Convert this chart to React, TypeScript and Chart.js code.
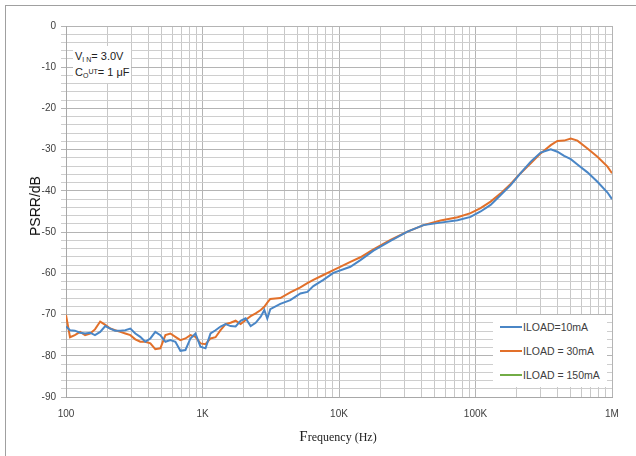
import React, { useEffect, useRef } from 'react';
import { Chart, registerables } from 'chart.js';

Chart.register(...registerables);

// Frequency (Hz) sample points
const freqHz = [
  100, 107, 116, 127, 138, 150, 163, 178, 194, 211, 229, 250, 272, 296, 322, 350, 381, 415, 451, 491,
  535, 582, 633, 689, 750, 816, 888, 966, 1052, 1145, 1246, 1356, 1476, 1606, 1748, 1902, 2070, 2253, 2452, 2670,
  2836, 2983, 3138, 3716, 4400, 5211, 5865, 6490, 7683, 9096, 12120, 14350, 17880, 23830, 31750, 41600, 55460, 73900,
  92000, 109000, 129000, 153000, 181000, 214000, 254000, 300000, 356000, 398000, 446000, 499000, 558000, 661000,
  782000, 927000, 1000000,
];

// PSRR (dB), ILOAD = 10mA
const load10mA = [
  -72.9, -73.8, -73.9, -74.4, -74.6, -74.4, -75.0, -74.2, -72.8, -73.4, -73.9, -73.9, -73.8, -73.4, -74.6, -75.4,
  -76.6, -75.8, -74.2, -75.0, -76.6, -76.2, -76.6, -78.8, -78.6, -75.8, -74.6, -77.8, -78.2, -74.6, -73.8, -72.9,
  -72.3, -72.8, -72.9, -71.5, -70.9, -72.8, -72.0, -70.5,
  -68.9, -71.0, -68.7, -67.4, -66.5, -64.9, -64.5, -63.1, -61.6, -59.9, -58.4, -56.8, -54.5, -52.1, -49.9, -48.3,
  -47.7, -47.1,
  -46.3, -45.0, -43.4, -41.0, -38.6, -35.7, -32.9, -30.7, -29.9, -30.5, -31.5, -32.3, -33.6, -35.5, -37.8, -40.4,
  -42.0,
];

// PSRR (dB), ILOAD = 30mA
const load30mA = [
  -70.1, -75.5, -75.0, -74.2, -75.0, -74.6, -73.6, -71.7, -72.5, -73.4, -73.8, -74.2, -74.6, -75.0, -76.0, -76.6,
  -76.6, -77.0, -78.4, -78.2, -75.0, -74.6, -75.4, -76.2, -75.8, -75.0, -75.4, -77.0, -77.2, -75.8, -75.5, -73.8,
  -72.3, -72.0, -71.5, -72.3, -71.3, -70.4, -69.7, -68.9,
  -68.1, -67.1, -66.2, -66.0, -64.6, -63.4, -62.4, -61.6, -60.4, -59.2, -57.2, -56.1, -54.2, -51.9, -49.9, -48.3,
  -47.2, -46.4,
  -45.4, -44.2, -42.6, -40.6, -38.3, -35.7, -33.3, -30.9, -28.9, -27.9, -27.8, -27.3, -27.8, -29.7, -31.7, -34.1,
  -35.7,
];

// PSRR (dB), ILOAD = 150mA (not visible in the reference, hidden beneath the other traces)
const load150mA: number[] = [];

const seriesNames = ['ILOAD=10mA', 'ILOAD = 30mA', 'ILOAD = 150mA'];
const seriesColors = ['#4a86c6', '#e2702a', '#72ac46'];

const xDecades = [100, 1000, 10000, 100000, 1000000];
const xDecadeLabels = ['100', '1K', '10K', '100K', '1M'];
const yMin = -90;
const yMax = 0;
const yMinorStep = 2;
const yLabelStep = 10;

export default function App() {
  const canvasRef = useRef<HTMLCanvasElement | null>(null);

  useEffect(() => {
    document.body.style.margin = '0';
    const canvas = canvasRef.current;
    if (!canvas) return;

    const toPts = (vals: number[]) => vals.map((v, i) => ({ x: freqHz[i], y: v }));

    const tickValues: number[] = [];
    for (let d = 0; d < xDecades.length - 1; d++) {
      for (let m = 1; m <= 9; m++) tickValues.push(xDecades[d] * m);
    }
    tickValues.push(xDecades[xDecades.length - 1]);

    const chart = new Chart(canvas, {
      type: 'line',
      data: {
        datasets: [
          { label: seriesNames[0], data: toPts(load10mA), borderColor: seriesColors[0], backgroundColor: seriesColors[0] },
          { label: seriesNames[1], data: toPts(load30mA), borderColor: seriesColors[1], backgroundColor: seriesColors[1] },
          { label: seriesNames[2], data: toPts(load150mA), borderColor: seriesColors[2], backgroundColor: seriesColors[2] },
        ].map((d) => ({ ...d, borderWidth: 2, pointRadius: 0, tension: 0, fill: false })),
      },
      options: {
        animation: false,
        responsive: false,
        devicePixelRatio: 1,
        layout: { padding: { top: 26, right: 24, left: 0, bottom: 0 } },
        plugins: { legend: { display: false }, tooltip: { enabled: false } },
        scales: {
          x: {
            type: 'logarithmic',
            min: xDecades[0],
            max: xDecades[xDecades.length - 1],
            afterBuildTicks: (scale: any) => {
              scale.ticks = tickValues.map((v) => ({ value: v, major: xDecades.includes(v) }));
            },
            afterFit: (scale: any) => {
              scale.height = 59;
            },
            ticks: {
              autoSkip: false,
              maxRotation: 0,
              padding: 11,
              color: '#404040',
              font: { family: 'Liberation Sans', size: 10 },
              callback: (value: any) => {
                const i = xDecades.indexOf(Number(value));
                return i >= 0 ? xDecadeLabels[i] : '';
              },
            },
            grid: {
              drawTicks: false,
              color: (ctx: any) => (ctx.tick && xDecades.includes(ctx.tick.value) ? '#b4b4b4' : '#c8c8c8'),
              lineWidth: 1,
            },
            border: { color: '#a8a8a8' },
          },
          y: {
            type: 'linear',
            min: yMin,
            max: yMax,
            afterFit: (scale: any) => {
              scale.width = 66;
            },
            ticks: {
              stepSize: yMinorStep,
              autoSkip: false,
              padding: 5,
              color: '#404040',
              font: { family: 'Liberation Sans', size: 10 },
              callback: (value: any) => (Number(value) % yLabelStep === 0 ? String(value) : ''),
            },
            grid: {
              tickLength: 5,
              color: (ctx: any) => (ctx.tick && ctx.tick.value % yLabelStep === 0 ? '#b4b4b4' : '#cecece'),
              lineWidth: 1,
            },
            border: { color: '#a8a8a8' },
          },
        },
      },
    });

    return () => {
      chart.destroy();
    };
  }, []);

  const sub: React.CSSProperties = { fontSize: 7, position: 'relative', top: 2 };
  const legendRow: React.CSSProperties = { display: 'flex', alignItems: 'center', height: 24 };

  return (
    <div style={{ position: 'relative', width: 636, height: 456, background: '#fff', overflow: 'hidden' }}>
      <canvas ref={canvasRef} width={636} height={456} style={{ display: 'block' }} />
      <div
        style={{
          position: 'absolute', left: 5, top: 5, width: 640, height: 460,
          borderTop: '1px solid #a0a0a0', borderLeft: '1px solid #a0a0a0', pointerEvents: 'none',
        }}
      />
      {/* annotation */}
      <div
        style={{
          position: 'absolute', left: 73, top: 46, width: 58, height: 37, background: '#fff',
          fontFamily: 'Liberation Sans', fontSize: 11, color: '#222', lineHeight: '15px', paddingLeft: 2,
          paddingTop: 3, boxSizing: 'border-box', whiteSpace: 'nowrap',
        }}
      >
        <div>V<span style={sub}>I N</span>= 3.0V</div>
        <div>C<span style={sub}>O</span><span style={{ fontSize: 7, position: 'relative', top: -2 }}>UT</span>= 1 μF</div>
      </div>
      {/* legend */}
      <div
        style={{
          position: 'absolute', left: 493, top: 315, width: 114, height: 72, background: '#fff',
          fontFamily: 'Liberation Sans', fontSize: 10.5, color: '#404040', paddingTop: 0,
        }}
      >
        {seriesNames.map((n, i) => (
          <div key={n} style={legendRow}>
            <span style={{ display: 'inline-block', width: 22, height: 2, background: seriesColors[i], marginLeft: 7, marginRight: 1 }} />
            <span>{n}</span>
          </div>
        ))}
      </div>
      {/* y title */}
      <div
        style={{
          position: 'absolute', left: 35, top: 206, transform: 'translate(-50%, -50%) rotate(-90deg)',
          fontFamily: 'Liberation Sans', fontSize: 14, color: '#111', whiteSpace: 'nowrap',
        }}
      >
        PSRR/dB
      </div>
      {/* x title */}
      <div
        style={{
          position: 'absolute', left: 338, top: 436, transform: 'translate(-50%, -50%)',
          fontFamily: 'Liberation Serif', color: '#222', whiteSpace: 'nowrap',
        }}
      >
        <span style={{ fontSize: 15 }}>F</span>
        <span style={{ fontSize: 12 }}>requency (Hz)</span>
      </div>
    </div>
  );
}
